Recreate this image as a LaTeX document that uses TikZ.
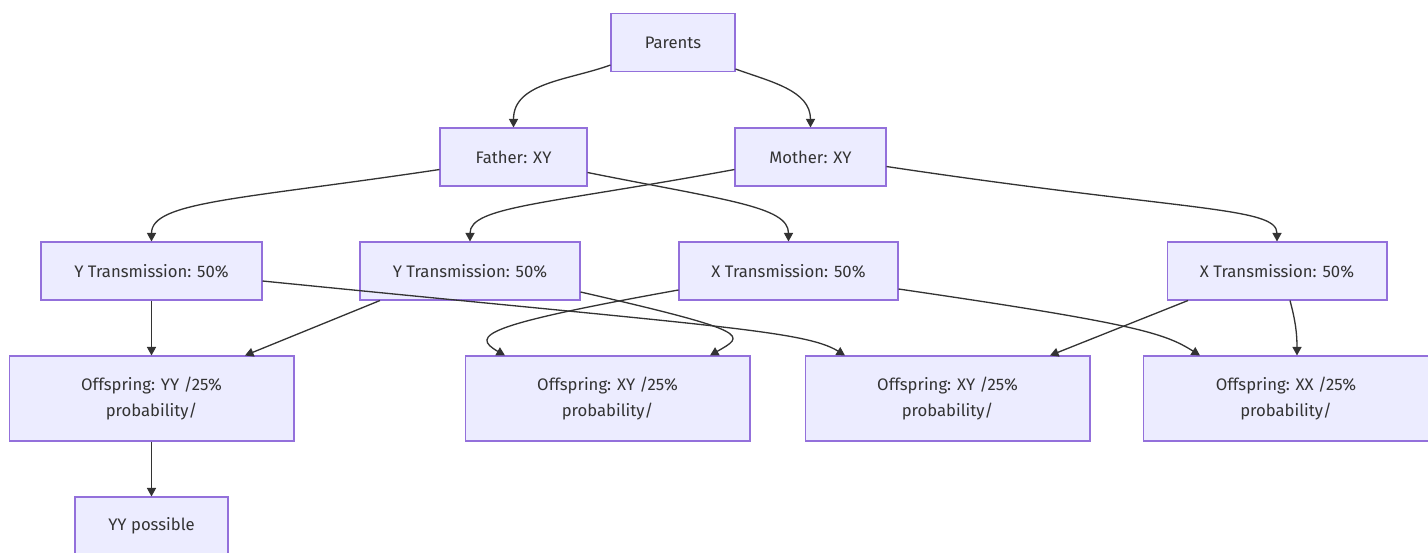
\documentclass[tikz,border=0pt]{standalone}
\usepackage{fontspec}
\setmainfont{Fira Sans}
\usetikzlibrary{arrows.meta}
\definecolor{boxfill}{HTML}{ECECFF}
\definecolor{boxline}{HTML}{9370DB}
\definecolor{ink}{HTML}{333333}

\begin{document}
\begin{tikzpicture}[x = 0.02cm, y = -0.02cm,
        font = \fontsize{9.5}{14.7}\selectfont,
        box/.style = {draw = boxline, fill = boxfill, text = ink, line width = 0.6pt, inner sep = 0pt, align = center},
        small/.style = {box, minimum height = 1.16cm},
        big/.style = {box, minimum width = 5.7cm, minimum height = 1.7cm},
        link/.style = {draw = ink, line width = 0.75pt, -{Triangle[length = 1.7mm, width = 1.8mm]}}]
        \useasboundingbox (0,0) rectangle (1428,553);

        % boxes
        \node [small, minimum width = 2.48cm] (parents) at (673,42.5) {Parents};
        \node [small, minimum width = 2.94cm] (father) at (513.5,157) {Father: XY};
        \node [small, minimum width = 3.02cm] (mother) at (810.5,157) {Mother: XY};

        \node [small, minimum width = 4.42cm] (ytrA) at (151.5,271) {Y Transmission: 50\%};
        \node [small, minimum width = 4.4cm] (ytrB) at (470,271) {Y Transmission: 50\%};
        \node [small, minimum width = 4.38cm] (xtrA) at (788.5,271) {X Transmission: 50\%};
        \node [small, minimum width = 4.4cm] (xtrB) at (1277,271) {X Transmission: 50\%};

        \node [big] (offYY) at (151.5,398.5) {Offspring: YY /25\%\\probability/};
        \node [big] (offXYa) at (607.5,398.5) {Offspring: XY /25\%\\probability/};
        \node [big] (offXYb) at (947.5,398.5) {Offspring: XY /25\%\\probability/};
        \node [big] (offXX) at (1286,398.5) {Offspring: XX /25\%\\probability/};

        \node [small, minimum width = 3.06cm] (yyposs) at (151.5,526) {YY possible};

        % parents
        \draw [link]
        ([shift={(0,-7)}]parents.south west) to [out = 200, in = 90] (father.north);
        \draw [link]
        ([shift={(0,-3)}]parents.south east) to [out = -20, in = 90] (mother.north);

        % father and mother
        \draw [link]
        ([shift={(0,-17)}]father.south west) .. controls +(-200,30) and +(0,-40) .. (ytrA.north);
        \draw [link]
        ([shift={(0,-14)}]father.south east) .. controls +(140,28) and +(0,-35) .. (xtrA.north);
        \draw [link]
        ([shift={(0,-17)}]mother.south west) .. controls +(-190,35) and +(0,-35) .. (ytrB.north);
        \draw [link]
        ([shift={(0,-20)}]mother.south east) .. controls +(300,45) and +(0,-35) .. (xtrB.north);

        % transmissions
        \draw [link]
        (ytrA.south) -- (offYY.north);
        \draw [link]
        ([shift={(0,10)}]ytrA.east) .. controls +(450,45) and +(-40,-25) .. ([shift={(-102.5,0)}]offXYb.north);
        \draw [link]
        ([shift={(-90,0)}]ytrB.south) -- ([shift={(93.5,0)}]offYY.north);
        \draw [link]
        ([shift={(0,21)}]ytrB.east) .. controls +(175,40) and +(35,-20) .. ([shift={(102.5,0)}]offXYa.north);
        \draw [link]
        ([shift={(0,19)}]xtrA.west) .. controls +(-195,35) and +(-35,-20) .. ([shift={(-102.5,0)}]offXYa.north);
        \draw [link]
        ([shift={(0,18)}]xtrA.east) .. controls +(240,35) and +(-35,-22) .. ([shift={(-86,0)}]offXX.north);
        \draw [link]
        ([shift={(-89,0)}]xtrB.south) -- ([shift={(102.5,0)}]offXYb.north);
        \draw [link]
        ([shift={(13,0)}]xtrB.south) to [out = -75, in = 90] ([shift={(11,0)}]offXX.north);

        % offspring
        \draw [link]
        (offYY.south) -- (yyposs.north);
    \end{tikzpicture}
\end{document}
